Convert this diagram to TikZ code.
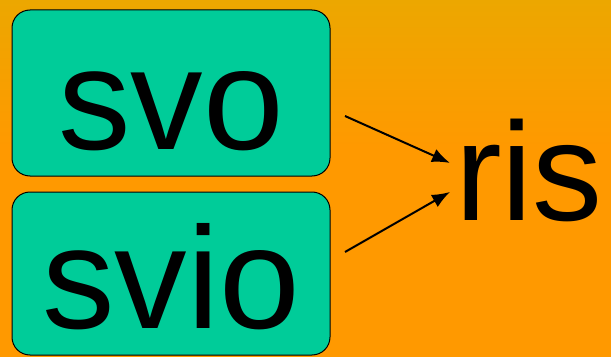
\documentclass[tikz,border=0pt]{standalone}
\usepackage{fontspec}
\setmainfont{Liberation Sans}
\usetikzlibrary{arrows.meta,positioning}
\definecolor{bgtop}{RGB}{236,167,0}
\definecolor{bgbottom}{RGB}{255,153,0}
\definecolor{boxfill}{RGB}{0,204,153}
\tikzstyle{word} = [draw, line width=1pt, fill=boxfill, rectangle, rounded corners=18pt, minimum width=318pt, inner sep=0pt, text height=132pt, text depth=20pt, font=\fontsize{145}{145}\selectfont]
\tikzstyle{point} = [coordinate]

\begin{document}
\begin{tikzpicture}[x=1pt, y=1pt, >={Latex[length=18pt,width=14pt]}]

% background
\fill [bgbottom] (0,0) rectangle (611,357);
\shade [top color=bgtop, bottom color=bgbottom] (0,357) rectangle (611,210);
\useasboundingbox (0,0) rectangle (611,357);

\node [word, minimum height=166pt] (svo) at (171,264) {svo};
\node [word, minimum height=163pt, text height=130pt] (svio) at (171,83.5) {svio};
\node [inner sep=0pt, anchor=base west, font=\fontsize{140}{140}\selectfont] (ris) at (455,137) {ris};

\node [point] (svo-out) at (345,241) {};
\node [point] (svio-out) at (345,105) {};

\draw [->, line width=2pt] (svo-out) -- ([xshift=-5pt, yshift=7pt]ris.west);
\draw [->, line width=2pt] (svio-out) -- ([xshift=-5pt, yshift=-22pt]ris.west);

\end{tikzpicture}
\end{document}
